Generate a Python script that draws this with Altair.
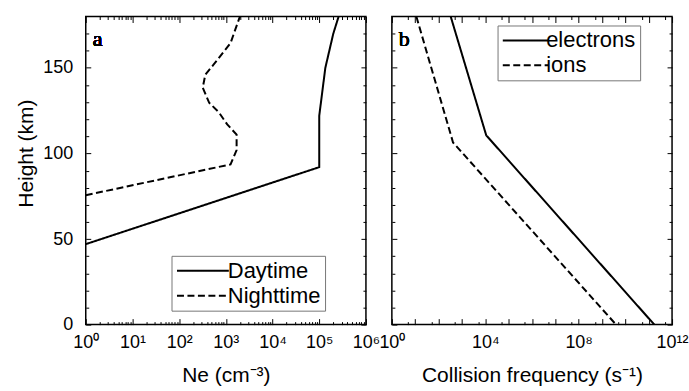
import altair as alt
import pandas as pd

# ---- panel a: electron density profiles ----
day_ne = [1, 1.0e5, 1.0e5, 1.35e5, 2.0e5, 2.6e5]
day_h = [47, 92, 122, 150, 170, 180]
night_ne = [1, 1260, 1700, 1700, 1070, 710, 440, 320, 363, 550, 1260, 2000]
night_h = [75.6, 93.6, 102, 111, 117, 124, 129.6, 138.4, 146, 152, 164.5, 180]

# ---- panel b: collision frequencies ----
elec_nu = [331, 1.1e4, 1.74e11]
elec_h = [180, 110.6, 0]
ion_nu = [11.2, 417, 4.0e9]
ion_h = [180, 106.4, 0]

FONT = "Liberation Sans"
SUP = "['⁰','¹','²','³','⁴','⁵','⁶','⁷','⁸','⁹']"
EXP = "round(log(datum.value)/LN10)"
DASH = [7, 3.5]


def frame(names, xs, hs):
    rows = []
    for name, xv, hv in zip(names, xs, hs):
        for i, (a, b) in enumerate(zip(xv, hv)):
            rows.append({"series": name, "x": a, "h": b, "i": i})
    return pd.DataFrame(rows)


def panel(df, names, xdomain, x_major, x_minor, label_expr, x_title,
          y_labels, legend_xy, sym_len, sym_shift, letter):
    xs = alt.Scale(type="log", domain=xdomain, nice=False)
    ys = alt.Scale(domain=[0, 180], nice=False)
    y_major = [0, 50, 100, 150]
    y_minor = [v for v in range(10, 180, 10) if v % 50]

    def ax(orient, values, size):
        return alt.Axis(orient=orient, values=values, tickSize=size, offset=-size,
                        domain=False, grid=False, labels=False, ticks=True,
                        tickColor="black", tickWidth=1, title=None)

    base = alt.Chart(df)
    y_axis = dict(orient="left", values=y_major, tickSize=5, offset=-5,
                  domain=False, grid=False, tickColor="black", labels=y_labels)
    if y_labels:
        y_axis.update(labelFont=FONT, labelFontSize=18, labelColor="black",
                      labelPadding=13, labelFlush=False, title="Height (km)",
                      titleFont=FONT, titleFontSize=21, titleFontWeight="normal",
                      titleColor="black", titlePadding=6, titleY=137)
    else:
        y_axis.update(title=None)

    # legend line: a horizontal custom path, 4 * sqrt(size) pixels long
    side = sym_len / 4.0
    lines = base.mark_line(color="black", strokeWidth=2, clip=True).encode(
        x=alt.X("x:Q", scale=xs,
                axis=alt.Axis(orient="bottom", values=x_major, tickSize=6, offset=-6,
                              domain=False, grid=False, tickColor="black",
                              labelExpr=label_expr, labelFont=FONT, labelFontSize=18,
                              labelColor="black", labelPadding=9, labelFlush=False,
                              labelOverlap=False, labelBound=False,
                              title=x_title, titleFont=FONT, titleFontSize=21,
                              titleFontWeight="normal", titleColor="black",
                              titlePadding=13)),
        y=alt.Y("h:Q", scale=ys, axis=alt.Axis(**y_axis)),
        strokeDash=alt.StrokeDash(
            "series:N",
            scale=alt.Scale(domain=names, range=[[1, 0], DASH]),
            legend=alt.Legend(title=None, orient="none", legendX=legend_xy[0],
                              legendY=legend_xy[1], symbolType="M-4,0H4",
                              symbolSize=side * side, symbolStrokeWidth=2,
                              symbolStrokeColor="black",
                              symbolOffset=sym_len / 2 - side / 2 - 1 - sym_shift,
                              labelOffset=sym_len - side - 25,
                              labelFont=FONT, labelFontSize=22, labelColor="black",
                              padding=4, rowPadding=3, strokeColor="#777",
                              fillColor="white")),
        order="i:Q",
    )
    ghost = base.mark_line(opacity=0)
    minor_bl = ghost.encode(
        x=alt.X("x:Q", scale=xs, axis=ax("bottom", x_minor, 3)),
        y=alt.Y("h:Q", scale=ys, axis=ax("left", y_minor, 3)),
        order="i:Q")
    major_tr = ghost.encode(
        x=alt.X("x:Q", scale=xs, axis=ax("top", x_major, 6)),
        y=alt.Y("h:Q", scale=ys, axis=ax("right", y_major, 5)),
        order="i:Q")
    minor_tr = ghost.encode(
        x=alt.X("x:Q", scale=xs, axis=ax("top", x_minor, 3)),
        y=alt.Y("h:Q", scale=ys, axis=ax("right", y_minor, 3)),
        order="i:Q")
    tag = alt.Chart(df).mark_text(font="Liberation Serif", fontSize=22,
                                  fontWeight="normal", align="left",
                                  baseline="middle", color="black").encode(
        x=alt.value(7), y=alt.value(23), text=alt.value(letter))

    return alt.layer(lines, minor_bl, major_tr, minor_tr, tag).resolve_axis(
        x="independent", y="independent").properties(width=281, height=309)


ne_df = frame(["Daytime", "Nighttime"], [day_ne, night_ne], [day_h, night_h])
nu_df = frame(["electrons", "ions"], [elec_nu, ion_nu], [elec_h, ion_h])

ne_major = [10 ** k for k in range(0, 7)]
ne_minor = [m * 10 ** k for k in range(0, 6) for m in range(2, 10)]
nu_major = [10 ** k for k in range(0, 13)]
nu_minor = [5 * 10 ** k for k in range(0, 12)]

ne_labels = f"'10' + {SUP}[{EXP}]"
nu_labels = (f"{EXP} % 4 != 0 ? '' : '10' + ({EXP} >= 10 ? {SUP}[floor({EXP}/10)] : '')"
             f" + {SUP}[{EXP} % 10]")

left = panel(ne_df, ["Daytime", "Nighttime"], [1, 1e6], ne_major, ne_minor,
             ne_labels, "Ne (cm⁻³)", True, (86, 240), 52, 2, "a")
right = panel(nu_df, ["electrons", "ions"], [1, 1e12], nu_major, nu_minor,
              nu_labels, "Collision frequency (s⁻¹)", False, (106, 9), 46, 3, "b")

chart = alt.hconcat(left, right, spacing=26, bounds="flush").resolve_scale(
    x="independent", y="independent", strokeDash="independent"
).resolve_legend(strokeDash="independent").properties(
    autosize=alt.AutoSizeParams(type="pad"),
    padding={"left": 15, "top": 14, "right": 0, "bottom": 0},
    background="white",
).configure_view(stroke="black", strokeWidth=1.5)

chart.save("out.html", embed_options={"renderer": "svg", "actions": False})
